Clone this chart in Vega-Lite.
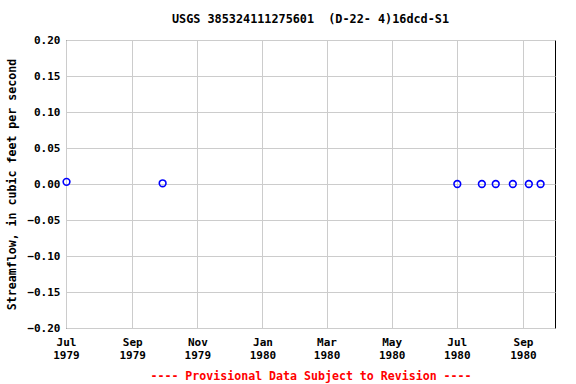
{
  "$schema": "https://vega.github.io/schema/vega-lite/v6.json",
  "width": 489,
  "height": 288,
  "autosize": "none",
  "padding": {"left": 66, "top": 40, "right": 21, "bottom": 56},
  "background": "white",
  "config": {
    "view": {"stroke": "black", "strokeWidth": 1},
    "font": "DejaVu Sans Mono"
  },
  "title": {
    "text": "USGS 385324111275601 \u00a0(D-22- 4)16dcd-S1",
    "font": "DejaVu Sans Mono",
    "fontSize": 11.8,
    "fontWeight": "bold",
    "color": "black",
    "offset": 8,
    "anchor": "middle"
  },
  "data": {
    "values": [
      {"date": "1979-07-01T12:00:00", "flow": 0.003},
      {"date": "1979-09-29T12:00:00", "flow": 0.001},
      {"date": "1980-07-01T12:00:00", "flow": 0.0},
      {"date": "1980-07-24T12:00:00", "flow": 0.0},
      {"date": "1980-08-06T12:00:00", "flow": 0.0},
      {"date": "1980-08-22T12:00:00", "flow": 0.0},
      {"date": "1980-09-06T12:00:00", "flow": 0.0},
      {"date": "1980-09-17T12:00:00", "flow": 0.0}
    ]
  },
  "mark": {"type": "point", "shape": "circle", "filled": false, "color": "blue", "opacity": 1, "size": 45, "strokeWidth": 1.6, "clip": false},
  "encoding": {
    "x": {
      "field": "date",
      "type": "temporal",
      "scale": {"domain": [{"year": 1979, "month": 7, "date": 1}, {"year": 1980, "month": 10, "date": 1}]},
      "axis": {
        "values": [
          {"year": 1979, "month": 7, "date": 1},
          {"year": 1979, "month": 9, "date": 1},
          {"year": 1979, "month": 11, "date": 1},
          {"year": 1980, "month": 1, "date": 1},
          {"year": 1980, "month": 3, "date": 1},
          {"year": 1980, "month": 5, "date": 1},
          {"year": 1980, "month": 7, "date": 1},
          {"year": 1980, "month": 9, "date": 1}
        ],
        "labelExpr": "[timeFormat(datum.value, '%b'), timeFormat(datum.value, '%Y')]",
        "labelFont": "DejaVu Sans Mono",
        "labelFontWeight": "bold",
        "labelFontSize": 11,
        "labelColor": "black",
        "labelLineHeight": 13,
        "labelPadding": 8,
        "labelFlush": false,
        "labelOverlap": false,
        "grid": true,
        "gridColor": "#cccccc",
        "tickSize": 0,
        "domain": false,
        "title": "---- Provisional Data Subject to Revision ----",
        "titleColor": "red",
        "titleFont": "DejaVu Sans Mono",
        "titleFontWeight": "bold",
        "titleFontSize": 11.6,
        "titlePadding": 10
      }
    },
    "y": {
      "field": "flow",
      "type": "quantitative",
      "scale": {"domain": [-0.2, 0.2], "nice": false, "zero": false},
      "axis": {
        "values": [-0.2, -0.15, -0.1, -0.05, 0, 0.05, 0.1, 0.15, 0.2],
        "format": ".2f",
        "labelFont": "DejaVu Sans Mono",
        "labelFontWeight": "bold",
        "labelFontSize": 11,
        "labelColor": "black",
        "labelPadding": 6,
        "grid": true,
        "gridColor": "#cccccc",
        "tickSize": 0,
        "domain": false,
        "title": "Streamflow, in cubic feet per second",
        "titleFont": "DejaVu Sans Mono",
        "titleFontWeight": "bold",
        "titleFontSize": 11.6,
        "titleColor": "black",
        "titlePadding": 9
      }
    }
  }
}
